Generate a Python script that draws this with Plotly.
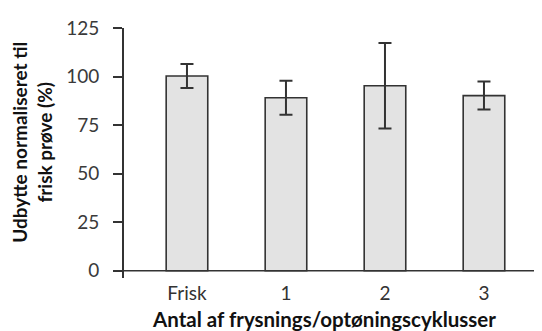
import plotly.graph_objects as go

categories = ["Frisk", "1", "2", "3"]
values = [100.3, 89.1, 95.3, 90.2]
errors = [6.2, 8.7, 22.0, 7.2]
y_ticks = [0, 25, 50, 75, 100, 125]

x_pos = list(range(len(categories)))

fig = go.Figure()
fig.add_trace(go.Bar(
    x=x_pos, y=values, width=0.42,
    marker=dict(color="#e3e3e3", line=dict(color="#333333", width=1.6)),
    error_y=dict(type="data", array=errors, visible=True, color="#333333", thickness=2, width=6.5),
    showlegend=False,
))

FONT = "Lato"
# page body has an 8px default margin; compensate in the figure margins
fig.update_layout(
    width=542, height=331,
    margin=dict(l=116, r=8, t=15, b=61),
    paper_bgcolor="white", plot_bgcolor="white",
    xaxis=dict(
        range=[-0.636, 3.586], tickmode="array", tickvals=x_pos, ticktext=categories,
        showline=False, showgrid=False, zeroline=False, ticks="",
        ticklabelstandoff=2,
        tickfont=dict(family=FONT, size=19, color="#333333"),
    ),
    yaxis=dict(
        range=[-3.7, 125], tickmode="array", tickvals=y_ticks,
        showline=True, linecolor="#333333", linewidth=1.6,
        ticks="outside", ticklen=9, tickwidth=1.6, tickcolor="#333333",
        ticklabelstandoff=10,
        showgrid=False, zeroline=False,
        tickfont=dict(family=FONT, size=19, color="#3a3a3a"),
    ),
    shapes=[dict(type="line", xref="paper", yref="y", x0=-9/418, x1=1, y0=0, y1=0,
                 line=dict(color="#333333", width=1.6))],
    annotations=[
        dict(text="<b>Udbytte normaliseret til<br>frisk prøve (%)</b>", textangle=-90,
             xref="paper", yref="paper", x=-0.22, y=0.541, showarrow=False,
             font=dict(family=FONT, size=19, color="#111111"), xanchor="center", yanchor="middle"),
        dict(text="<b>Antal af frysnings/optøningscyklusser</b>",
             xref="paper", yref="paper", x=0.478, y=-0.165, showarrow=False,
             font=dict(family=FONT, size=20.5, color="#111111"), xanchor="center", yanchor="middle"),
    ],
)

fig.write_html("out.html")
